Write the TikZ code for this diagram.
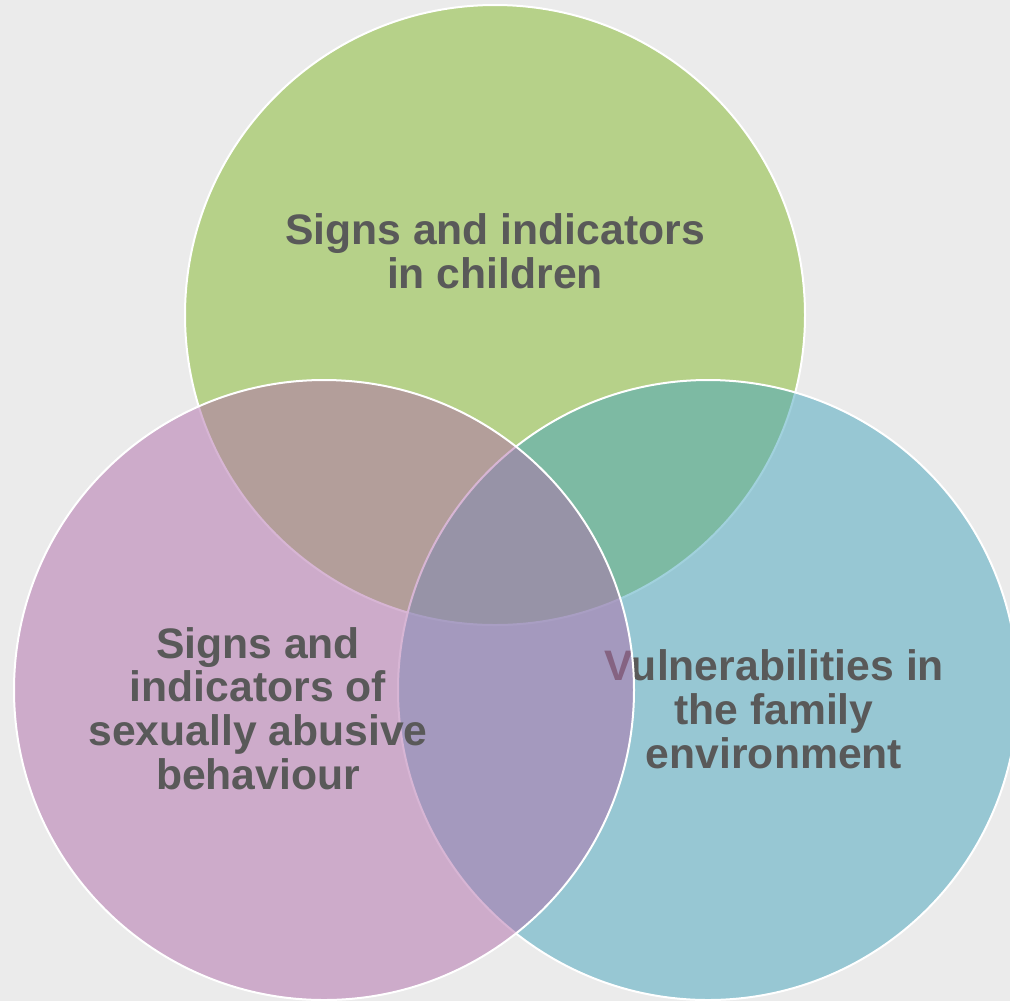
\documentclass[tikz,border=0pt]{standalone}
\usepackage{fontspec}
\setmainfont{Liberation Sans}
\definecolor{bg}{RGB}{235,235,235}
\definecolor{cgreen}{RGB}{131,185,41}
\definecolor{cblue}{RGB}{69,165,189}
\definecolor{cpink}{RGB}{177,109,171}
\definecolor{txt}{RGB}{89,89,89}
\begin{document}
\begin{tikzpicture}[x=0.75pt,y=-0.75pt,
  venn/.style={fill opacity=0.5, draw=white, draw opacity=1, line width=1.5pt},
  lbl/.style={text=txt, font=\fontsize{32pt}{32.7pt}\selectfont\bfseries, align=center, inner sep=0pt, anchor=base}]
\fill[bg] (0,0) rectangle (1010,1001);
\useasboundingbox (0,0) rectangle (1010,1001);
\clip (0,0) rectangle (1010,1001);
\path[venn, fill=cgreen] (495,315) circle[radius=232.5pt];
\node[lbl] (tg) at (495,288) {Signs and indicators\\in children};
\path[venn, fill=cblue] (708,690) circle[radius=232.5pt];
\node[lbl] (tb) at (774,768) {Vulnerabilities in\\the family\\environment};
\path[venn, fill=cpink] (324,690) circle[radius=232.5pt];
\node[lbl] (tp) at (258,789) {Signs and\\indicators of\\sexually abusive\\behaviour};
\end{tikzpicture}
\end{document}
